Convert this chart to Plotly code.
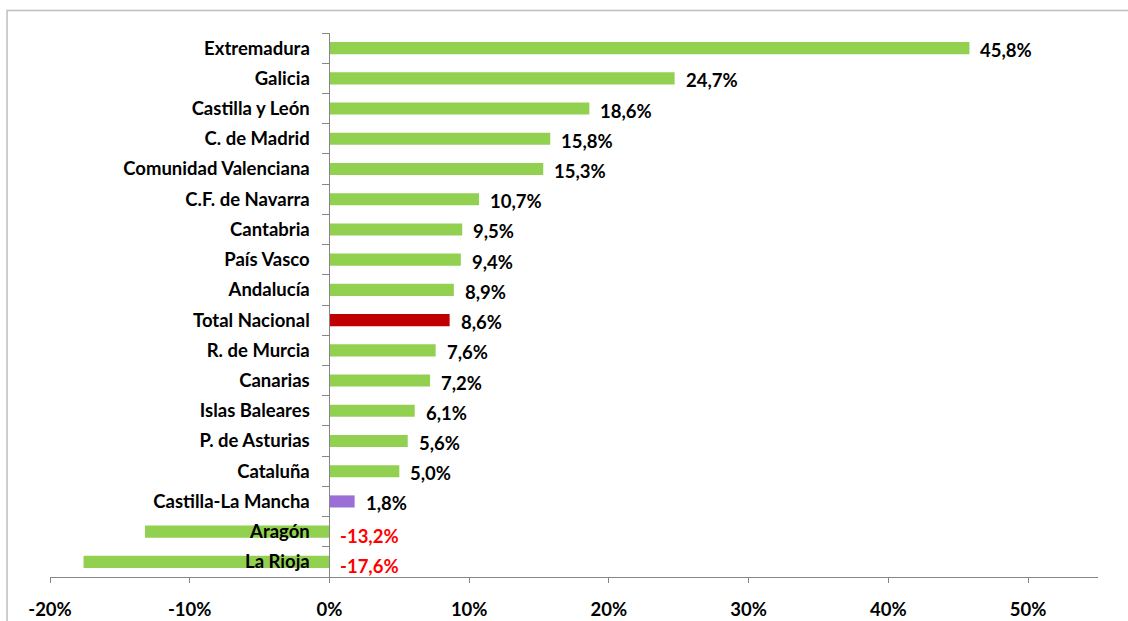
import plotly.graph_objects as go

regions = ["Extremadura", "Galicia", "Castilla y León", "C. de Madrid", "Comunidad Valenciana",
           "C.F. de Navarra", "Cantabria", "País Vasco", "Andalucía", "Total Nacional",
           "R. de Murcia", "Canarias", "Islas Baleares", "P. de Asturias", "Cataluña",
           "Castilla-La Mancha", "Aragón", "La Rioja"]
values = [45.8, 24.7, 18.6, 15.8, 15.3, 10.7, 9.5, 9.4, 8.9, 8.6, 7.6, 7.2, 6.1, 5.6, 5.0, 1.8, -13.2, -17.6]
labels = ["45,8%", "24,7%", "18,6%", "15,8%", "15,3%", "10,7%", "9,5%", "9,4%", "8,9%", "8,6%",
          "7,6%", "7,2%", "6,1%", "5,6%", "5,0%", "1,8%", "-13,2%", "-17,6%"]
xtickvals = [-20, -10, 0, 10, 20, 30, 40, 50]
xticktext = ["-20%", "-10%", "0%", "10%", "20%", "30%", "40%", "50%"]

GREEN = "#92D050"
RED = "#C00000"
PURPLE = "#9B6FD6"

colors = []
for r in regions:
    if r == "Total Nacional":
        colors.append(RED)
    elif r == "Castilla-La Mancha":
        colors.append(PURPLE)
    else:
        colors.append(GREEN)

FONT = "Lato"
FS = 18.5
xmin, xmax = -20, 55

fig = go.Figure()
fig.add_trace(go.Bar(
    x=values, y=regions, orientation="h",
    marker=dict(color=colors, line=dict(width=0)),
    width=0.4, hoverinfo="skip",
))

for r, v, t in zip(regions, values, labels):
    fig.add_annotation(
        x=max(v, 0), y=r, xref="x", yref="y", text="<b>%s</b>" % t,
        showarrow=False, xanchor="left", yanchor="middle", xshift=9,
        yshift=-4 if v < 0 else -2,
        font=dict(family=FONT, size=FS, color="#FF0000" if v < 0 else "#000000"),
    )

fig.update_layout(
    template="none",
    width=1128, height=621,
    margin=dict(l=50, r=30, t=33, b=44, autoexpand=False),
    paper_bgcolor="white", plot_bgcolor="white",
    showlegend=False,
    font=dict(family=FONT, size=FS, color="black"),
    xaxis=dict(
        range=[xmin, xmax], domain=[0, 1], automargin=False,
        tickvals=xtickvals, ticktext=["<b>%s</b>" % s for s in xticktext],
        showgrid=False, zeroline=False,
        showline=True, linecolor="#868686", linewidth=1,
        ticks="outside", ticklen=5, tickcolor="#868686",
        tickfont=dict(family=FONT, size=FS, color="black"),
        ticklabelstandoff=11,
    ),
    yaxis=dict(
        autorange="reversed", anchor="free", automargin=False,
        position=(0 - xmin) / (xmax - xmin),
        showgrid=False, zeroline=False,
        showline=True, linecolor="#868686", linewidth=1,
        ticks="outside", ticklen=7, tickcolor="#868686", tickson="boundaries",
        tickmode="array", tickvals=regions, ticktext=["<b>%s</b>" % r for r in regions],
        tickfont=dict(family=FONT, size=FS, color="black"),
        ticklabelstandoff=16,
    ),
    shapes=[dict(type="rect", xref="paper", yref="paper", x0=-0.041, x1=1.2, y0=-0.5,
                 y1=1 + 22.5 / 544, line=dict(color="#BFBFBF", width=1.5), fillcolor="rgba(0,0,0,0)",
                 layer="below")],
)

fig.write_html("out.html")
